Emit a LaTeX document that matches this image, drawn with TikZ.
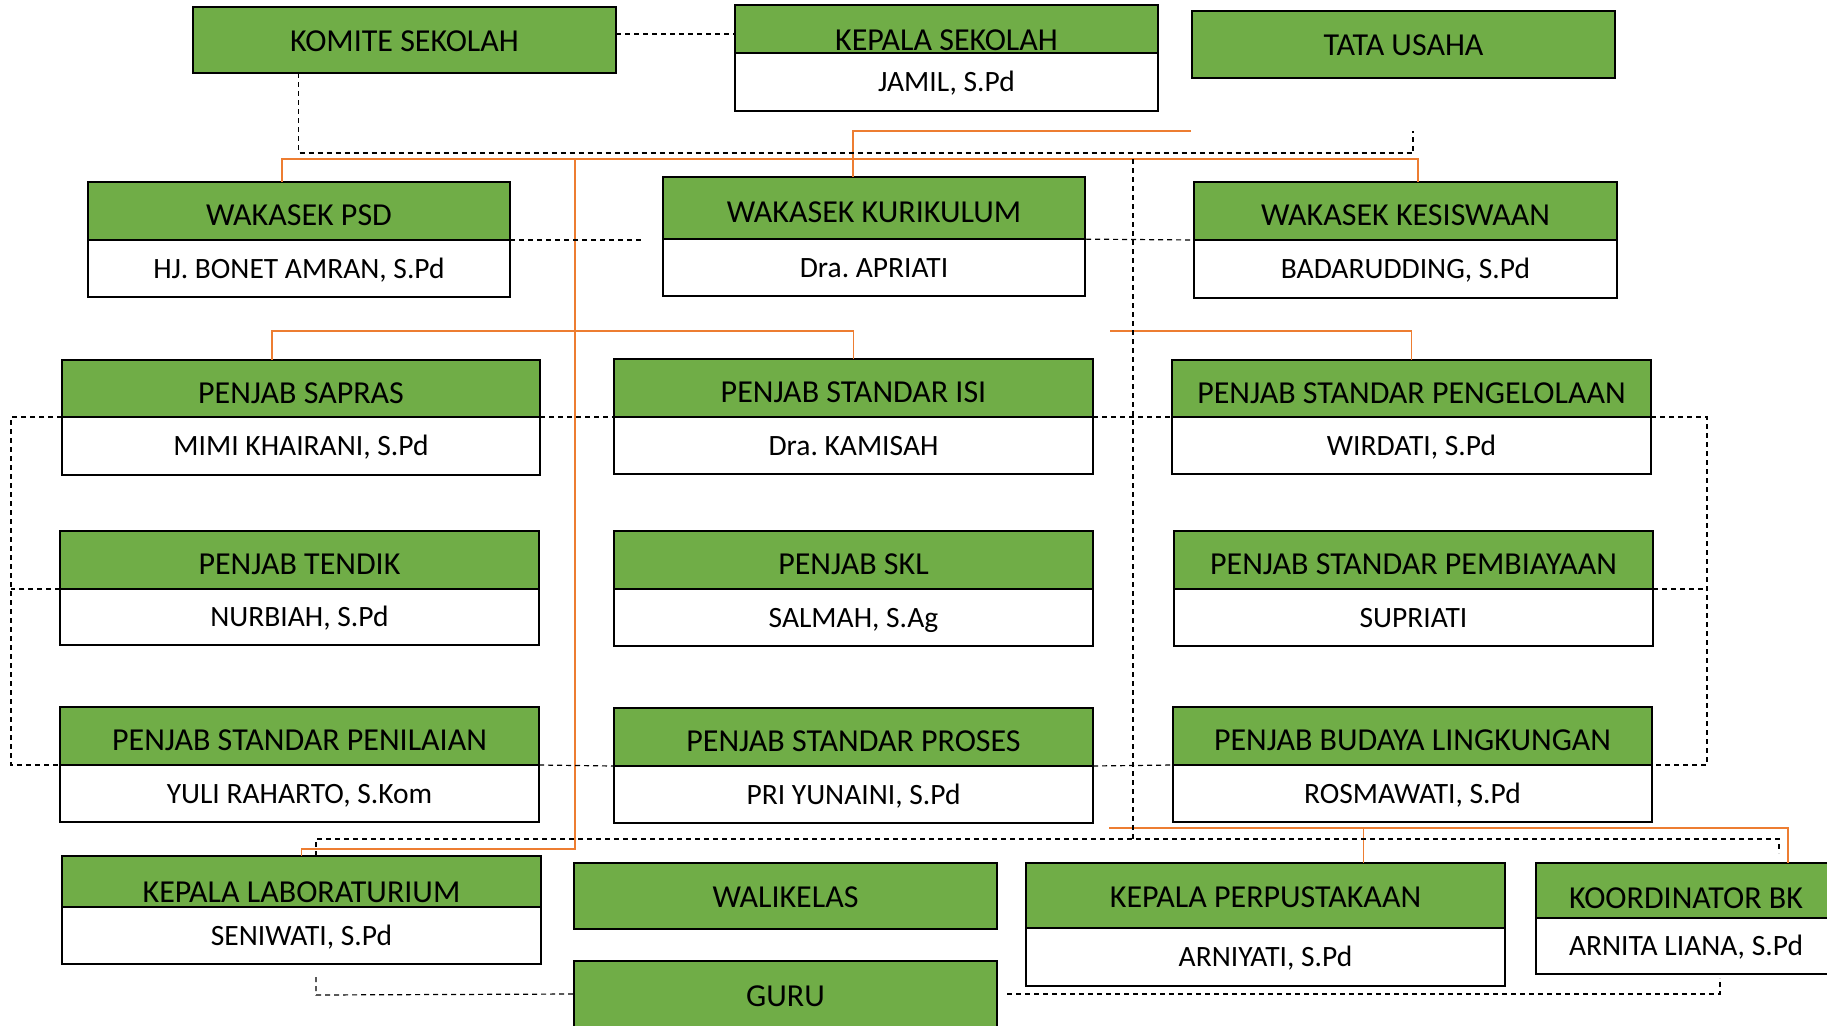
\documentclass[tikz,border=0pt]{standalone}
\usepackage{fontspec}
\setmainfont{Carlito}
\usepackage{tikz}
\usetikzlibrary{positioning}
\definecolor{hijau}{RGB}{112,173,71}
\definecolor{oranye}{RGB}{237,125,49}
\frenchspacing

\begin{document}
\begin{tikzpicture}[x=1pt,y=-1pt,
                    jabatan/.style={draw,line width=2.5pt,fill=hijau,anchor=north west,
                                    font=\fontsize{32}{38}\selectfont,
                                    inner sep=0pt,outer sep=0pt,text height=29pt,text depth=0pt},
                    nama/.style={draw,line width=2.5pt,fill=white,inner sep=0pt,outer sep=0pt,
                                 font=\fontsize{29.5}{35}\selectfont,
                                 text height=19pt,text depth=0pt},
                    garis/.style={draw=oranye,line width=1.5pt},
                    putus/.style={draw,line width=1.2pt,dash pattern=on 5pt off 4pt}]
                \clip (0,0) rectangle (1827,1025);
                \node[jabatan,minimum width=423pt,minimum height=66pt,text height=23pt] at (193,7) (komite) {KOMITE SEKOLAH};
                \node[jabatan,minimum width=423pt,minimum height=48pt,text height=43pt] at (735,5) (kepala) {KEPALA SEKOLAH};
                \node[nama,minimum width=423pt,minimum height=58pt] [below=0pt of kepala] (kepalanm) {JAMIL, S.Pd};
                \node[jabatan,minimum width=423pt,minimum height=67pt,text height=23pt] at (1192,11) (tu) {TATA USAHA};
                \node[jabatan,minimum width=422pt,minimum height=58pt] at (88,182) (psd) {WAKASEK PSD};
                \node[nama,minimum width=422pt,minimum height=57pt] [below=0pt of psd] (psdnm) {HJ. BONET AMRAN, S.Pd};
                \node[jabatan,minimum width=422pt,minimum height=62pt] at (663,177) (kurikulum) {WAKASEK KURIKULUM};
                \node[nama,minimum width=422pt,minimum height=57pt] [below=0pt of kurikulum] (kurikulumnm) {Dra. APRIATI};
                \node[jabatan,minimum width=423pt,minimum height=58pt] at (1194,182) (kesiswaan) {WAKASEK KESISWAAN};
                \node[nama,minimum width=423pt,minimum height=58pt] [below=0pt of kesiswaan] (kesiswaannm) {BADARUDDING, S.Pd};
                \node[jabatan,minimum width=478pt,minimum height=57pt] at (62,360) (sapras) {PENJAB SAPRAS};
                \node[nama,minimum width=478pt,minimum height=58pt] [below=0pt of sapras] (saprasnm) {MIMI KHAIRANI, S.Pd};
                \node[jabatan,minimum width=479pt,minimum height=58pt] at (614,359) (isi) {PENJAB STANDAR ISI};
                \node[nama,minimum width=479pt,minimum height=57pt] [below=0pt of isi] (isinm) {Dra. KAMISAH};
                \node[jabatan,minimum width=479pt,minimum height=57pt] at (1172,360) (pengelolaan) {PENJAB STANDAR PENGELOLAAN};
                \node[nama,minimum width=479pt,minimum height=57pt] [below=0pt of pengelolaan] (pengelolaannm) {WIRDATI, S.Pd};
                \node[jabatan,minimum width=479pt,minimum height=58pt] at (60,531) (tendik) {PENJAB TENDIK};
                \node[nama,minimum width=479pt,minimum height=56pt] [below=0pt of tendik] (tendiknm) {NURBIAH, S.Pd};
                \node[jabatan,minimum width=479pt,minimum height=58pt] at (614,531) (skl) {PENJAB SKL};
                \node[nama,minimum width=479pt,minimum height=57pt] [below=0pt of skl] (sklnm) {SALMAH, S.Ag};
                \node[jabatan,minimum width=479pt,minimum height=58pt] at (1174,531) (pembiayaan) {PENJAB STANDAR PEMBIAYAAN};
                \node[nama,minimum width=479pt,minimum height=57pt] [below=0pt of pembiayaan] (pembiayaannm) {SUPRIATI};
                \node[jabatan,minimum width=479pt,minimum height=58pt] at (60,707) (penilaian) {PENJAB STANDAR PENILAIAN};
                \node[nama,minimum width=479pt,minimum height=57pt] [below=0pt of penilaian] (penilaiannm) {YULI RAHARTO, S.Kom};
                \node[jabatan,minimum width=479pt,minimum height=58pt] at (614,708) (proses) {PENJAB STANDAR PROSES};
                \node[nama,minimum width=479pt,minimum height=57pt] [below=0pt of proses] (prosesnm) {PRI YUNAINI, S.Pd};
                \node[jabatan,minimum width=479pt,minimum height=58pt] at (1173,707) (budaya) {PENJAB BUDAYA LINGKUNGAN};
                \node[nama,minimum width=479pt,minimum height=57pt] [below=0pt of budaya] (budayanm) {ROSMAWATI, S.Pd};
                \node[jabatan,minimum width=479pt,minimum height=51pt,text height=42pt] at (62,856) (lab) {KEPALA LABORATURIUM};
                \node[nama,minimum width=479pt,minimum height=57pt] [below=0pt of lab] (labnm) {SENIWATI, S.Pd};
                \node[jabatan,minimum width=423pt,minimum height=66pt,text height=23pt] at (574,863) (walikelas) {WALIKELAS};
                \node[jabatan,minimum width=423pt,minimum height=66pt,text height=25pt] at (574,961) (guru) {GURU};
                \node[jabatan,minimum width=479pt,minimum height=65pt,text height=23pt] at (1026,863) (perpus) {KEPALA PERPUSTAKAAN};
                \node[nama,minimum width=479pt,minimum height=58pt] [below=0pt of perpus] (perpusnm) {ARNIYATI, S.Pd};
                \node[jabatan,minimum width=300pt,minimum height=55pt,text height=36pt] at (1536,863) (bk) {KOORDINATOR BK};
                \node[nama,minimum width=300pt,minimum height=56pt] [below=0pt of bk] (bknm) {ARNITA LIANA, S.Pd};
                \coordinate (ta) at (1191,131);
                \coordinate (kw) at (1418,159);
                \coordinate (pv) at (575,159);
                \coordinate (pl) at (575,849);
                \coordinate (pg) at (1110,331);
                \coordinate (bw) at (1109,828);
                \coordinate (kk) at ([yshift=6pt]komite.east);
                \coordinate (tk) at (1413,153);
                \coordinate (tg) at (1133,159);
                \coordinate (bb) at (316,839);
                \coordinate (gk) at (316,995);
                \coordinate (gr) at (1720,996);
                \draw[garis] (ta) -| ([xshift=-21pt]kurikulum.north);
                \draw[garis] ([xshift=-17pt]psd.north) |- (kw) -- (kw |- kesiswaan.north);
                \draw[garis] (pv) -- (pl) -| (lab.north);
                \draw[garis] ([xshift=-29pt]sapras.north) -- ++(0,-29) -| (isi.north);
                \draw[garis] (pg) -| (pengelolaan.north);
                \draw[garis] (bw) -| ([xshift=-48pt]bk.north east);
                \draw[garis] ([xshift=98pt]perpus.north) -- ([xshift=98pt]perpus.north |- bw);
                \draw[putus] (kk) -- (kk -| kepala.west);
                \draw[putus] ([xshift=-106pt]komite.south) |- (tk) -- (tk |- ta);
                \draw[putus] (psd.south east) -- ++(133,0);
                \draw[putus] ([xshift=-17pt]kurikulum.south east) -- (kesiswaan.south west);
                \draw[putus] (tg) -- (tg |- bb);
                \draw[putus] (sapras.south west) -- ++(-51,0) |- (penilaian.south west);
                \draw[putus] (tendik.south west) -- ++(-49,0);
                \draw[putus] (sapras.south east) -- (isi.south west);
                \draw[putus] (isi.south east) -- (pengelolaan.south west);
                \draw[putus] (penilaian.south east) -- (proses.south west);
                \draw[putus] (proses.south east) -- (budaya.south west);
                \draw[putus] (pengelolaan.south east) -- ++(56,0) |- (budaya.south east);
                \draw[putus] (pembiayaan.south east) -- ++(54,0);
                \draw[putus,shorten >=10pt] (lab.north -| bb) -- (bb) -| ([xshift=-57pt]bk.north east);
                \draw[putus,shorten <=13pt] (labnm.south -| gk) -- (gk) -- (guru.west);
                \draw[putus,shorten >=4pt] ([xshift=10pt]guru.east) -- (guru.east -| gr) -- (gr |- bknm.south);
\end{tikzpicture}
\end{document}
